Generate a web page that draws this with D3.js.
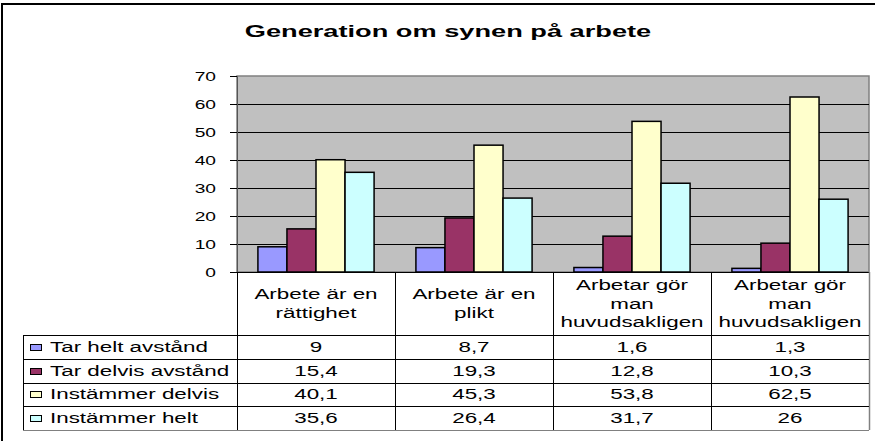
<!DOCTYPE html>
<html>
<head>
<meta charset="utf-8">
<script src="https://cdn.jsdelivr.net/npm/d3@7"></script>
<style>
  body { margin: 0; background: #fff; }
  svg { display: block; font-family: "Liberation Sans", Arial, sans-serif; }
</style>
</head>
<body>
<svg id="chart"></svg>
<script>
/*
    DATA
*/
var categories = ["Arbete är en rättighet", "Arbete är en plikt", "Arbetar gör man huvudsakligen", "Arbetar gör man huvudsakligen"];
var categoryLines = [["Arbete är en", "rättighet"], ["Arbete är en", "plikt"], ["Arbetar gör", "man", "huvudsakligen"], ["Arbetar gör", "man", "huvudsakligen"]];

var seriesNames = ["Tar helt avstånd", "Tar delvis avstånd", "Instämmer delvis", "Instämmer helt"];
var tarHelt = [9, 8.7, 1.6, 1.3];
var tarDelvis = [15.4, 19.3, 12.8, 10.3];
var instDelvis = [40.1, 45.3, 53.8, 62.5];
var instHelt = [35.6, 26.4, 31.7, 26];
var seriesValues = [tarHelt, tarDelvis, instDelvis, instHelt];
var seriesColors = ["#9999ff", "#993366", "#ffffcc", "#ccffff"];

var yTicks = [0, 10, 20, 30, 40, 50, 60, 70];
var title = "Generation om synen på arbete";

/*
    LAYOUT
*/
var width = 875, height = 441;
var plot = {left: 237, right: 869, top: 76, bottom: 272};
var table = {left: 23, top: 335, bottom: 430};
var SX = 1.6; // the original text is stretched sideways

var svg = d3.select("#chart").attr("width", width).attr("height", height);

// helper: text stretched horizontally around its anchor point
function stext(parent, x, y, str, size, anchor, weight) {
  return parent.append("text")
    .attr("transform", "translate(" + x + "," + y + ") scale(" + SX + ",1)")
    .attr("text-anchor", anchor || "middle")
    .attr("font-size", size)
    .attr("font-weight", weight || "normal")
    .attr("fill", "#000")
    .text(str);
}

var fmt = function(v) { return String(v).replace(".", ","); };

// outer chart border (right/bottom fall outside the picture)
svg.append("rect")
  .attr("x", 2).attr("y", 4)
  .attr("width", 890).attr("height", 460)
  .attr("fill", "#fff").attr("stroke", "#000").attr("stroke-width", 2);

stext(svg, 448, 37, title, 17, "middle", "bold");

/*
    SCALES
*/
var idx = d3.range(categories.length);
var x0 = d3.scaleBand().domain(idx).range([plot.left, plot.right]).padding(0);
var x1 = d3.scaleBand().domain(d3.range(seriesNames.length))
  .range([0, x0.bandwidth()]).paddingInner(0).paddingOuter(0.72);
var y = d3.scaleLinear().domain([0, 70]).range([plot.bottom, plot.top]);

// plot area
svg.append("rect")
  .attr("x", plot.left).attr("y", plot.top)
  .attr("width", plot.right - plot.left).attr("height", plot.bottom - plot.top)
  .attr("fill", "#c0c0c0").attr("stroke", "#808080").attr("stroke-width", 1.5);

// gridlines
svg.append("g").selectAll("line")
  .data(yTicks.filter(function(t) { return t > 0 && t < 70; }))
  .enter().append("line")
  .attr("x1", plot.left).attr("x2", plot.right)
  .attr("y1", function(d) { return Math.round(y(d)) + 0.5; })
  .attr("y2", function(d) { return Math.round(y(d)) + 0.5; })
  .attr("stroke", "#000").attr("stroke-width", 1);

// bars
var groups = svg.append("g").selectAll("g")
  .data(idx).enter().append("g")
  .attr("transform", function(i) { return "translate(" + x0(i) + ",0)"; });

groups.selectAll("rect")
  .data(function(i) { return seriesValues.map(function(vals, s) { return {s: s, v: vals[i]}; }); })
  .enter().append("rect")
  .attr("x", function(d) { return x1(d.s); })
  .attr("y", function(d) { return y(d.v); })
  .attr("width", x1.bandwidth())
  .attr("height", function(d) { return y(0) - y(d.v); })
  .attr("fill", function(d) { return seriesColors[d.s]; })
  .attr("stroke", "#000").attr("stroke-width", 1.5);

// y axis
var yAxis = svg.append("g")
  .attr("transform", "translate(" + plot.left + ",0)")
  .call(d3.axisLeft(y).tickValues(yTicks).tickSize(7).tickPadding(0).tickFormat(""));
yAxis.select(".domain").attr("stroke", "#555");
yAxis.selectAll(".tick line").attr("stroke", "#000");
yTicks.forEach(function(t) {
  stext(svg, 216, y(t) + 4.5, String(t), 12, "end");
});

/*
    DATA TABLE
*/
var lineCol = "#000";
var tg = svg.append("g");
// x axis line / table header top
tg.append("line").attr("x1", plot.left - 7).attr("x2", plot.right)
  .attr("y1", plot.bottom + 0.5).attr("y2", plot.bottom + 0.5).attr("stroke", lineCol);

// column dividers
idx.concat([categories.length]).forEach(function(i) {
  var xx = i < categories.length ? x0(i) : plot.right;
  tg.append("line")
    .attr("x1", Math.round(xx) + 0.5).attr("x2", Math.round(xx) + 0.5)
    .attr("y1", plot.bottom).attr("y2", table.bottom)
    .attr("stroke", i === categories.length ? "#808080" : lineCol)
    .attr("stroke-width", i === categories.length ? 1.5 : 1);
});
tg.append("line").attr("x1", table.left + 0.5).attr("x2", table.left + 0.5)
  .attr("y1", table.top).attr("y2", table.bottom).attr("stroke", lineCol);

// rows
var rowH = (table.bottom - table.top) / seriesNames.length;
d3.range(seriesNames.length + 1).forEach(function(r) {
  var yy = Math.round(table.top + r * rowH) + 0.5;
  tg.append("line").attr("x1", table.left).attr("x2", plot.right)
    .attr("y1", yy).attr("y2", yy).attr("stroke", r === seriesNames.length ? "#808080" : lineCol);
});

// header labels
var lh = 18.5;
idx.forEach(function(i) {
  var lines = categoryLines[i];
  var cy = (plot.bottom + table.top) / 2;
  var start = cy - (lines.length - 1) * lh / 2 + 5;
  lines.forEach(function(l, k) {
    stext(tg, x0(i) + x0.bandwidth() / 2, start + k * lh, l, 14, "middle");
  });
});

// legend keys and values
seriesNames.forEach(function(name, s) {
  var cy = table.top + s * rowH + rowH / 2;
  tg.append("rect")
    .attr("x", 30.5).attr("y", Math.round(cy) - 2.5)
    .attr("width", 11).attr("height", 6)
    .attr("fill", seriesColors[s]).attr("stroke", "#000").attr("stroke-width", 1);
  stext(tg, 50, cy + 5, name, 14, "start");
  idx.forEach(function(i) {
    stext(tg, x0(i) + x0.bandwidth() / 2, cy + 5, fmt(seriesValues[s][i]), 14, "middle");
  });
});
</script>
</body>
</html>
